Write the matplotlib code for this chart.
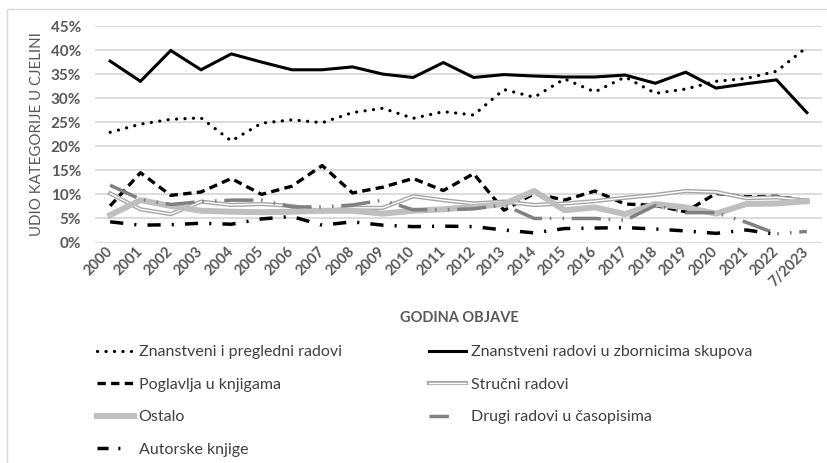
import numpy as np
import matplotlib
matplotlib.use("Agg")
import matplotlib.pyplot as plt
from matplotlib.lines import Line2D
from matplotlib.patches import Rectangle
from matplotlib.ticker import PercentFormatter

plt.rcParams['font.family'] = ['Lato', 'DejaVu Sans']
plt.rcParams['lines.scale_dashes'] = False

# ── Data (share of each category, %) ─────────────────────────────────────
years = [str(y) for y in range(2000, 2023)] + ["7/2023"]

znanstveni = [22.9, 24.6, 25.6, 25.9, 21.1, 24.8, 25.5, 24.9, 27.0, 27.9, 25.8, 27.2,
              26.5, 31.8, 30.2, 34.0, 31.3, 34.4, 31.0, 31.9, 33.5, 34.1, 35.6, 40.6]
zbornici   = [37.7, 33.5, 39.9, 35.9, 39.2, 37.5, 35.9, 35.9, 36.5, 35.0, 34.3, 37.4,
              34.3, 34.9, 34.6, 34.4, 34.4, 34.8, 33.1, 35.4, 32.1, 33.0, 33.8, 27.0]
poglavlja  = [7.6, 14.5, 9.8, 10.5, 13.3, 10.0, 11.7, 16.0, 10.3, 11.5, 13.3, 10.8,
              14.3, 6.7, 10.2, 8.8, 10.7, 8.0, 7.7, 6.4, 10.2, 9.5, 9.6, 8.7]
strucni    = [10.2, 6.9, 5.9, 8.5, 7.8, 8.0, 7.6, 6.4, 7.2, 7.2, 9.6, 8.8,
              8.1, 8.5, 7.8, 8.1, 8.6, 9.3, 9.9, 10.7, 10.5, 9.2, 9.4, 8.7]
ostalo     = [5.7, 8.8, 7.6, 6.6, 6.4, 6.3, 6.4, 6.6, 6.6, 6.0, 6.6, 6.9,
              7.4, 8.0, 10.7, 6.7, 7.3, 5.9, 8.0, 7.3, 6.0, 8.0, 8.1, 8.6]
drugi      = [11.9, 9.0, 7.9, 8.5, 8.8, 8.8, 7.4, 7.4, 7.8, 8.8, 6.8, 6.8,
              7.0, 7.8, 5.0, 5.0, 5.0, 4.6, 7.7, 6.2, 6.2, 4.2, 1.8, 2.3]
autorske   = [4.3, 3.6, 3.7, 4.0, 3.8, 4.9, 5.4, 3.6, 4.3, 3.6, 3.3, 3.4,
              3.3, 2.6, 2.0, 2.9, 3.0, 3.1, 2.8, 2.4, 1.9, 2.6, 1.7, np.nan]

labels = ["Znanstveni i pregledni radovi", "Znanstveni radovi u zbornicima skupova",
          "Poglavlja u knjigama", "Stručni radovi", "Ostalo",
          "Drugi radovi u časopisima", "Autorske knjige"]

GRAY_TXT = "#595959"

# ── Figure ──────────────────────────────────────────────────────────────
fig = plt.figure(figsize=(8.28, 4.63), dpi=100)
W, H = 828, 463
ax = fig.add_axes([95 / W, 1 - 242.5 / H, 727 / W, 216.5 / H])

x = np.arange(len(years))
to_frac = lambda v: np.array(v, dtype=float) / 100

dot_style   = dict(color="black", lw=2.3, ls=(0, (0.1, 6.0)), dash_capstyle="round")
solid_style = dict(color="black", lw=2.2, solid_joinstyle="miter")
dash_style  = dict(color="black", lw=2.4, ls=(0, (6.0, 3.8)))
str_outer   = dict(color="#a6a6a6", lw=3.0)
str_inner   = dict(color="white", lw=1.0)
ost_style   = dict(color="#bfbfbf", lw=4.3, solid_joinstyle="round")
drugi_style = dict(color="#808080", lw=2.5, ls=(0, (21.0, 5.5, 1.2, 8.0, 1.2, 5.5)))
aut_style   = dict(color="black", lw=2.5, ls=(0, (9.5, 8.0, 1.5, 8.0)))

ax.plot(x, to_frac(znanstveni), **dot_style)
ax.plot(x, to_frac(zbornici), **solid_style)
ax.plot(x, to_frac(poglavlja), **dash_style)
ax.plot(x, to_frac(strucni), **str_outer)
ax.plot(x, to_frac(strucni), **str_inner)
ax.plot(x, to_frac(ostalo), **ost_style)
ax.plot(x, to_frac(drugi), **drugi_style)
ax.plot(x, to_frac(autorske), **aut_style)

ax.set_xlim(-0.5, len(years) - 0.5)
ax.set_ylim(0, 0.45)
ax.set_yticks(np.arange(0, 0.451, 0.05))
ax.yaxis.set_major_formatter(PercentFormatter(1.0, decimals=0))
ax.grid(axis="y", color="#d9d9d9", lw=1.3)
ax.set_axisbelow(True)
for s in ax.spines.values():
    s.set_visible(False)
ax.tick_params(axis="both", length=0)
ax.tick_params(axis="y", pad=10, labelsize=11, labelcolor=GRAY_TXT)
ax.set_xticks(x)
ax.set_xticklabels(years, rotation=45, ha="right", va="center",
                   rotation_mode="anchor", fontsize=10.5, color=GRAY_TXT,
                   fontweight="bold")
ax.tick_params(axis="x", pad=5)
for t in ax.get_yticklabels():
    t.set_fontweight("bold")

# axis titles placed in figure pixels
fig.text(37 / W, 1 - 134 / H, "UDIO KATEGORIJE U CJELINI", rotation=90,
         ha="center", va="center", fontsize=10.8, color=GRAY_TXT)
fig.text(459.5 / W, 1 - 318 / H, "GODINA OBJAVE", ha="center", va="center",
         fontsize=10.5, color=GRAY_TXT, fontweight="bold")

# chart frame
fig.add_artist(Rectangle((7 / W, -0.1), 1.2, 1 - 9 / H + 0.1, transform=fig.transFigure,
                         fill=False, edgecolor="#d9d9d9", lw=1.0))

# ── Legend ──────────────────────────────────────────────────────────────
h_zn = Line2D([], [], **dot_style)
h_zb = Line2D([], [], **solid_style)
h_po = Line2D([], [], **dash_style)
h_st = (Line2D([], [], **str_outer), Line2D([], [], **str_inner))
h_os = Line2D([], [], **ost_style)
h_dr = Line2D([], [], color="#808080", lw=2.5, ls=(0, (14, 40)))
h_au = Line2D([], [], color="black", lw=2.5, ls=(0, (8.0, 7.0, 1.5, 30)))

leg_kw = dict(frameon=False, fontsize=11.5, handlelength=2.3, handletextpad=0.3,
              labelspacing=1.15, borderpad=0, borderaxespad=0, loc="upper left",
              labelcolor="#404040")
fig.legend([h_zn, h_po, h_os, h_au], [labels[0], labels[2], labels[4], labels[6]],
           bbox_to_anchor=(97 / W, 1 - 345 / H), **leg_kw)
fig.legend([h_zb, h_st, h_dr], [labels[1], labels[3], labels[5]],
           bbox_to_anchor=(429 / W, 1 - 345 / H), **leg_kw)

fig.savefig("out.png", dpi=100)
